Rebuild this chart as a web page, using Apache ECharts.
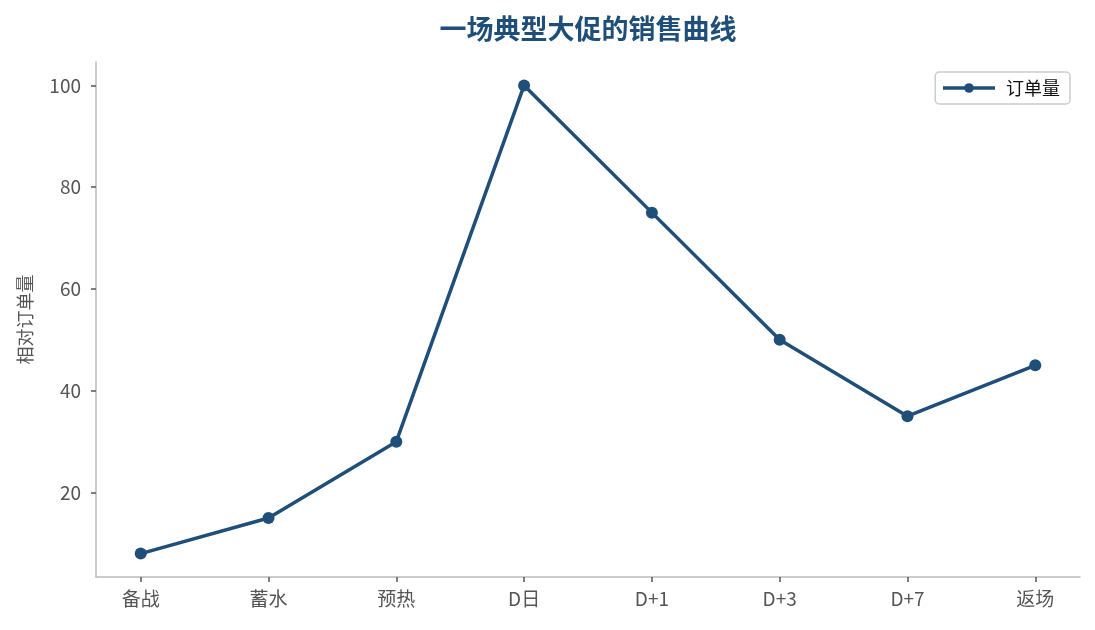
<!DOCTYPE html>
<html>
<head>
<meta charset="utf-8">
<script src="https://cdn.jsdelivr.net/npm/echarts@6/dist/echarts.min.js"></script>
<style>
  html, body { margin: 0; padding: 0; background: #fff; }
  #chart { width: 1095px; height: 630px; }
</style>
</head>
<body>
<div id="chart"></div>
<script>
const categories = ['备战', '蓄水', '预热', 'D日', 'D+1', 'D+3', 'D+7', '返场'];
const orders = [8, 15, 30, 100, 75, 50, 35, 45];
const yTicks = [20, 40, 60, 80, 100];

const chart = echarts.init(document.getElementById('chart'));
const font = '"Noto Sans CJK SC", "Noto Sans", sans-serif';
const lineColor = '#1F4E79';

const option = {
  backgroundColor: '#ffffff',
  animation: false,
  textStyle: { fontFamily: font },
  title: {
    text: '一场典型大促的销售曲线',
    left: 583,
    textAlign: 'center',
    top: 10,
    textStyle: { color: lineColor, fontSize: 27, fontWeight: 'bold', fontFamily: font }
  },
  legend: {
    data: ['订单量'],
    right: 25,
    top: 72,
    itemWidth: 52,
    itemHeight: 12,
    padding: [7, 10, 7, 6],
    borderColor: '#cccccc',
    borderWidth: 1.5,
    borderRadius: 4,
    lineStyle: { width: 3.5 },
    textStyle: { color: '#111', fontSize: 18, fontFamily: font, padding: [0, 0, 0, 6] }
  },
  grid: { left: 96, right: 15, top: 62, bottom: 53 },
  xAxis: {
    type: 'value',
    min: -0.35,
    max: categories.length - 1 + 0.35,
    axisLine: { onZero: false, lineStyle: { color: '#bbbbbb', width: 1.5 } },
    axisTick: {
      show: true,
      length: 5,
      lineStyle: { color: '#555', width: 1.5 },
      customValues: categories.map((c, i) => i)
    },
    axisLabel: {
      color: '#555',
      fontSize: 19,
      margin: 12,
      customValues: categories.map((c, i) => i),
      formatter: v => categories[Math.round(v)]
    },
    splitLine: { show: false }
  },
  yAxis: {
    type: 'value',
    min: 3.4,
    max: 104.6,
    name: '相对订单量',
    nameLocation: 'middle',
    nameGap: 62,
    nameTextStyle: { color: '#555', fontSize: 18, fontFamily: font },
    axisLine: { show: true, onZero: false, lineStyle: { color: '#bbbbbb', width: 1.5 } },
    axisTick: {
      show: true,
      length: 5,
      lineStyle: { color: '#555', width: 1.5 },
      customValues: yTicks
    },
    axisLabel: {
      color: '#555',
      fontSize: 19,
      margin: 15,
      customValues: yTicks
    },
    splitLine: { show: false }
  },
  series: [{
    name: '订单量',
    type: 'line',
    data: orders.map((v, i) => [i, v]),
    symbol: 'circle',
    symbolSize: 12,
    lineStyle: { color: lineColor, width: 3.5 },
    itemStyle: { color: lineColor }
  }]
};

chart.setOption(option);
</script>
</body>
</html>
